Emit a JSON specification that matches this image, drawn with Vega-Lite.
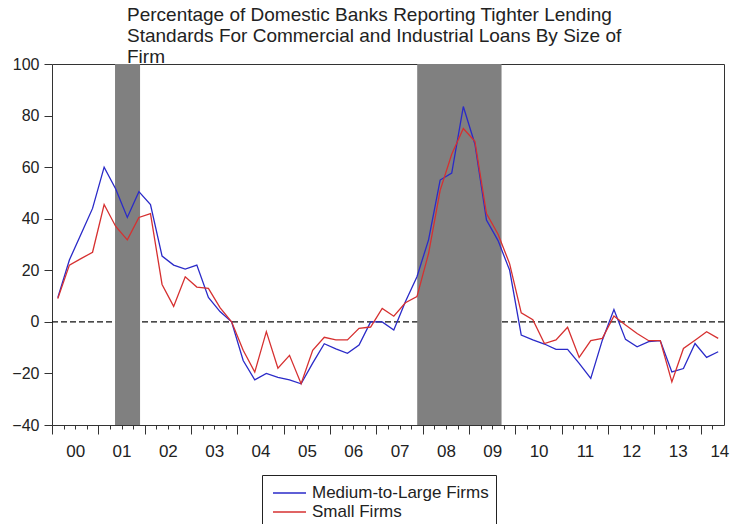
{
  "$schema": "https://vega.github.io/schema/vega-lite/v6.json",
  "width": 672,
  "height": 361,
  "autosize": "none",
  "padding": {"left": 52, "top": 64, "right": 7, "bottom": 99},
  "background": "white",
  "config": {
    "view": {"stroke": "#333", "strokeWidth": 1},
    "font": "Liberation Sans"
  },
  "title": {
    "text": ["Percentage of Domestic Banks Reporting Tighter Lending", "Standards For Commercial and Industrial Loans By Size of", "Firm"],
    "anchor": "start",
    "frame": "group",
    "dx": 75,
    "offset": -26,
    "baseline": "alphabetic",
    "fontSize": 19,
    "fontWeight": "normal",
    "font": "Liberation Sans",
    "color": "#222",
    "lineHeight": 21
  },
  "layer": [
    {
      "data": {"values": [{}]},
      "mark": {"type": "rule", "strokeDash": [6, 3], "color": "#111", "strokeWidth": 1.1},
      "encoding": {
        "x": {
          "datum": 2000, "type": "quantitative",
          "scale": {"domain": [2000, 2014.5], "nice": false, "zero": false},
          "axis": {
            "orient": "bottom", "title": null, "labels": false, "domain": false, "grid": false,
            "tickSize": 4, "tickColor": "#333",
            "values": [2000, 2000.25, 2000.5, 2000.75, 2001, 2001.25, 2001.5, 2001.75, 2002, 2002.25, 2002.5, 2002.75, 2003, 2003.25, 2003.5, 2003.75, 2004, 2004.25, 2004.5, 2004.75, 2005, 2005.25, 2005.5, 2005.75, 2006, 2006.25, 2006.5, 2006.75, 2007, 2007.25, 2007.5, 2007.75, 2008, 2008.25, 2008.5, 2008.75, 2009, 2009.25, 2009.5, 2009.75, 2010, 2010.25, 2010.5, 2010.75, 2011, 2011.25, 2011.5, 2011.75, 2012, 2012.25, 2012.5, 2012.75, 2013, 2013.25, 2013.5, 2013.75, 2014, 2014.25]
          }
        },
        "x2": {"datum": 2014.5},
        "y": {
          "datum": 0, "type": "quantitative",
          "scale": {"domain": [-40, 100], "nice": false},
          "axis": {
            "title": null, "grid": false, "domain": false,
            "values": [-40, -20, 0, 20, 40, 60, 80, 100],
            "tickSize": 8, "tickColor": "#333", "labelPadding": 5,
            "labelFontSize": 16, "labelColor": "#222", "labelFlush": false, "labelOverlap": false
          }
        }
      }
    },
    {
      "data": {"values": [{"start": 2001.36, "end": 2001.9}, {"start": 2007.88, "end": 2009.7}]},
      "mark": {"type": "rect", "color": "#808080", "opacity": 1},
      "encoding": {
        "x": {
          "field": "start", "type": "quantitative",
          "scale": {"domain": [2000, 2014.5], "nice": false, "zero": false},
          "axis": {
            "orient": "bottom", "title": null, "labels": false, "domain": false, "grid": false,
            "tickSize": 9, "tickColor": "#333",
            "values": [2000, 2001, 2002, 2003, 2004, 2005, 2006, 2007, 2008, 2009, 2010, 2011, 2012, 2013, 2014]
          }
        },
        "x2": {"field": "end"}
      }
    },
    {
      "data": {"values": [
        {"quarter": 2000.125, "series": "Medium-to-Large Firms", "pct": 9.4},
        {"quarter": 2000.375, "series": "Medium-to-Large Firms", "pct": 24.0},
        {"quarter": 2000.625, "series": "Medium-to-Large Firms", "pct": 34.0},
        {"quarter": 2000.875, "series": "Medium-to-Large Firms", "pct": 44.0},
        {"quarter": 2001.125, "series": "Medium-to-Large Firms", "pct": 60.0},
        {"quarter": 2001.375, "series": "Medium-to-Large Firms", "pct": 51.5},
        {"quarter": 2001.625, "series": "Medium-to-Large Firms", "pct": 40.5},
        {"quarter": 2001.875, "series": "Medium-to-Large Firms", "pct": 50.5},
        {"quarter": 2002.125, "series": "Medium-to-Large Firms", "pct": 45.5},
        {"quarter": 2002.375, "series": "Medium-to-Large Firms", "pct": 25.5},
        {"quarter": 2002.625, "series": "Medium-to-Large Firms", "pct": 22.0},
        {"quarter": 2002.875, "series": "Medium-to-Large Firms", "pct": 20.5},
        {"quarter": 2003.125, "series": "Medium-to-Large Firms", "pct": 22.0},
        {"quarter": 2003.375, "series": "Medium-to-Large Firms", "pct": 9.5},
        {"quarter": 2003.625, "series": "Medium-to-Large Firms", "pct": 4.0},
        {"quarter": 2003.875, "series": "Medium-to-Large Firms", "pct": 0.0},
        {"quarter": 2004.125, "series": "Medium-to-Large Firms", "pct": -15.0},
        {"quarter": 2004.375, "series": "Medium-to-Large Firms", "pct": -22.5},
        {"quarter": 2004.625, "series": "Medium-to-Large Firms", "pct": -20.0},
        {"quarter": 2004.875, "series": "Medium-to-Large Firms", "pct": -21.5},
        {"quarter": 2005.125, "series": "Medium-to-Large Firms", "pct": -22.5},
        {"quarter": 2005.375, "series": "Medium-to-Large Firms", "pct": -24.0},
        {"quarter": 2005.625, "series": "Medium-to-Large Firms", "pct": -16.0},
        {"quarter": 2005.875, "series": "Medium-to-Large Firms", "pct": -8.5},
        {"quarter": 2006.125, "series": "Medium-to-Large Firms", "pct": -10.5},
        {"quarter": 2006.375, "series": "Medium-to-Large Firms", "pct": -12.2},
        {"quarter": 2006.625, "series": "Medium-to-Large Firms", "pct": -9.0},
        {"quarter": 2006.875, "series": "Medium-to-Large Firms", "pct": 0.0},
        {"quarter": 2007.125, "series": "Medium-to-Large Firms", "pct": 0.0},
        {"quarter": 2007.375, "series": "Medium-to-Large Firms", "pct": -3.2},
        {"quarter": 2007.625, "series": "Medium-to-Large Firms", "pct": 7.8},
        {"quarter": 2007.875, "series": "Medium-to-Large Firms", "pct": 17.5},
        {"quarter": 2008.125, "series": "Medium-to-Large Firms", "pct": 31.8},
        {"quarter": 2008.375, "series": "Medium-to-Large Firms", "pct": 55.0},
        {"quarter": 2008.625, "series": "Medium-to-Large Firms", "pct": 57.7},
        {"quarter": 2008.875, "series": "Medium-to-Large Firms", "pct": 83.5},
        {"quarter": 2009.125, "series": "Medium-to-Large Firms", "pct": 69.0},
        {"quarter": 2009.375, "series": "Medium-to-Large Firms", "pct": 39.5},
        {"quarter": 2009.625, "series": "Medium-to-Large Firms", "pct": 31.5},
        {"quarter": 2009.875, "series": "Medium-to-Large Firms", "pct": 20.0},
        {"quarter": 2010.125, "series": "Medium-to-Large Firms", "pct": -5.1},
        {"quarter": 2010.375, "series": "Medium-to-Large Firms", "pct": -7.0},
        {"quarter": 2010.625, "series": "Medium-to-Large Firms", "pct": -8.6},
        {"quarter": 2010.875, "series": "Medium-to-Large Firms", "pct": -10.7},
        {"quarter": 2011.125, "series": "Medium-to-Large Firms", "pct": -10.7},
        {"quarter": 2011.375, "series": "Medium-to-Large Firms", "pct": -16.1},
        {"quarter": 2011.625, "series": "Medium-to-Large Firms", "pct": -21.9},
        {"quarter": 2011.875, "series": "Medium-to-Large Firms", "pct": -7.1},
        {"quarter": 2012.125, "series": "Medium-to-Large Firms", "pct": 4.8},
        {"quarter": 2012.375, "series": "Medium-to-Large Firms", "pct": -6.8},
        {"quarter": 2012.625, "series": "Medium-to-Large Firms", "pct": -9.7},
        {"quarter": 2012.875, "series": "Medium-to-Large Firms", "pct": -7.7},
        {"quarter": 2013.125, "series": "Medium-to-Large Firms", "pct": -7.3},
        {"quarter": 2013.375, "series": "Medium-to-Large Firms", "pct": -19.4},
        {"quarter": 2013.625, "series": "Medium-to-Large Firms", "pct": -18.1},
        {"quarter": 2013.875, "series": "Medium-to-Large Firms", "pct": -8.4},
        {"quarter": 2014.125, "series": "Medium-to-Large Firms", "pct": -13.8},
        {"quarter": 2014.375, "series": "Medium-to-Large Firms", "pct": -11.6},
        {"quarter": 2000.125, "series": "Small Firms", "pct": 9.0},
        {"quarter": 2000.375, "series": "Small Firms", "pct": 22.0},
        {"quarter": 2000.625, "series": "Small Firms", "pct": 24.5},
        {"quarter": 2000.875, "series": "Small Firms", "pct": 27.0},
        {"quarter": 2001.125, "series": "Small Firms", "pct": 45.5},
        {"quarter": 2001.375, "series": "Small Firms", "pct": 37.0},
        {"quarter": 2001.625, "series": "Small Firms", "pct": 31.8},
        {"quarter": 2001.875, "series": "Small Firms", "pct": 40.5},
        {"quarter": 2002.125, "series": "Small Firms", "pct": 42.0},
        {"quarter": 2002.375, "series": "Small Firms", "pct": 14.5},
        {"quarter": 2002.625, "series": "Small Firms", "pct": 6.0},
        {"quarter": 2002.875, "series": "Small Firms", "pct": 17.5},
        {"quarter": 2003.125, "series": "Small Firms", "pct": 13.5},
        {"quarter": 2003.375, "series": "Small Firms", "pct": 13.0},
        {"quarter": 2003.625, "series": "Small Firms", "pct": 5.5},
        {"quarter": 2003.875, "series": "Small Firms", "pct": 0.0},
        {"quarter": 2004.125, "series": "Small Firms", "pct": -11.0},
        {"quarter": 2004.375, "series": "Small Firms", "pct": -19.5},
        {"quarter": 2004.625, "series": "Small Firms", "pct": -3.8},
        {"quarter": 2004.875, "series": "Small Firms", "pct": -18.0},
        {"quarter": 2005.125, "series": "Small Firms", "pct": -13.0},
        {"quarter": 2005.375, "series": "Small Firms", "pct": -24.0},
        {"quarter": 2005.625, "series": "Small Firms", "pct": -11.0},
        {"quarter": 2005.875, "series": "Small Firms", "pct": -6.0},
        {"quarter": 2006.125, "series": "Small Firms", "pct": -7.0},
        {"quarter": 2006.375, "series": "Small Firms", "pct": -7.0},
        {"quarter": 2006.625, "series": "Small Firms", "pct": -2.5},
        {"quarter": 2006.875, "series": "Small Firms", "pct": -2.0},
        {"quarter": 2007.125, "series": "Small Firms", "pct": 5.2},
        {"quarter": 2007.375, "series": "Small Firms", "pct": 2.2},
        {"quarter": 2007.625, "series": "Small Firms", "pct": 7.4},
        {"quarter": 2007.875, "series": "Small Firms", "pct": 9.8},
        {"quarter": 2008.125, "series": "Small Firms", "pct": 26.5},
        {"quarter": 2008.375, "series": "Small Firms", "pct": 51.0},
        {"quarter": 2008.625, "series": "Small Firms", "pct": 65.0},
        {"quarter": 2008.875, "series": "Small Firms", "pct": 75.0},
        {"quarter": 2009.125, "series": "Small Firms", "pct": 70.0},
        {"quarter": 2009.375, "series": "Small Firms", "pct": 42.0},
        {"quarter": 2009.625, "series": "Small Firms", "pct": 34.0},
        {"quarter": 2009.875, "series": "Small Firms", "pct": 22.5},
        {"quarter": 2010.125, "series": "Small Firms", "pct": 3.5},
        {"quarter": 2010.375, "series": "Small Firms", "pct": 0.8},
        {"quarter": 2010.625, "series": "Small Firms", "pct": -8.4},
        {"quarter": 2010.875, "series": "Small Firms", "pct": -7.0},
        {"quarter": 2011.125, "series": "Small Firms", "pct": -2.1},
        {"quarter": 2011.375, "series": "Small Firms", "pct": -13.8},
        {"quarter": 2011.625, "series": "Small Firms", "pct": -7.3},
        {"quarter": 2011.875, "series": "Small Firms", "pct": -6.4},
        {"quarter": 2012.125, "series": "Small Firms", "pct": 2.3},
        {"quarter": 2012.375, "series": "Small Firms", "pct": -1.2},
        {"quarter": 2012.625, "series": "Small Firms", "pct": -4.5},
        {"quarter": 2012.875, "series": "Small Firms", "pct": -7.3},
        {"quarter": 2013.125, "series": "Small Firms", "pct": -7.3},
        {"quarter": 2013.375, "series": "Small Firms", "pct": -23.3},
        {"quarter": 2013.625, "series": "Small Firms", "pct": -10.3},
        {"quarter": 2013.875, "series": "Small Firms", "pct": -7.1},
        {"quarter": 2014.125, "series": "Small Firms", "pct": -3.8},
        {"quarter": 2014.375, "series": "Small Firms", "pct": -6.4}
      ]},
      "mark": {"type": "line", "strokeWidth": 1.3},
      "encoding": {
        "x": {
          "field": "quarter", "type": "quantitative",
          "scale": {"domain": [2000, 2014.5], "nice": false, "zero": false},
          "axis": {
            "orient": "bottom", "title": null, "ticks": false, "tickSize": 0, "domain": false, "grid": false,
            "labelFontSize": 17, "labelColor": "#222", "labelPadding": 18, "labelBaseline": "top",
            "labelFlush": false, "labelOverlap": false, "labelBound": false,
            "values": [2000.5, 2001.5, 2002.5, 2003.5, 2004.5, 2005.5, 2006.5, 2007.5, 2008.5, 2009.5, 2010.5, 2011.5, 2012.5, 2013.5, 2014.4],
            "labelExpr": "format(floor(datum.value) % 100, '02d')"
          }
        },
        "y": {
          "field": "pct", "type": "quantitative",
          "scale": {"domain": [-40, 100], "nice": false},
          "axis": {
            "title": null, "grid": false, "domain": false,
            "values": [-40, -20, 0, 20, 40, 60, 80, 100],
            "tickSize": 8, "tickColor": "#333", "labelPadding": 5,
            "labelFontSize": 16, "labelColor": "#222", "labelFlush": false, "labelOverlap": false
          }
        },
        "color": {
          "field": "series", "type": "nominal",
          "scale": {"domain": ["Medium-to-Large Firms", "Small Firms"], "range": ["#2a2ac8", "#d63030"]},
          "legend": {
            "orient": "none", "legendX": 210, "legendY": 411, "title": null,
            "strokeColor": "#222", "fillColor": "white", "padding": 7, "cornerRadius": 0,
            "symbolType": "M-0.7,0H2.6", "symbolSize": 400, "symbolStrokeWidth": 1.3,
            "labelFontSize": 17, "labelColor": "#222", "labelOffset": 21, "rowPadding": 0, "labelLimit": 400
          }
        }
      }
    }
  ],
  "resolve": {"axis": {"x": "independent"}}
}
